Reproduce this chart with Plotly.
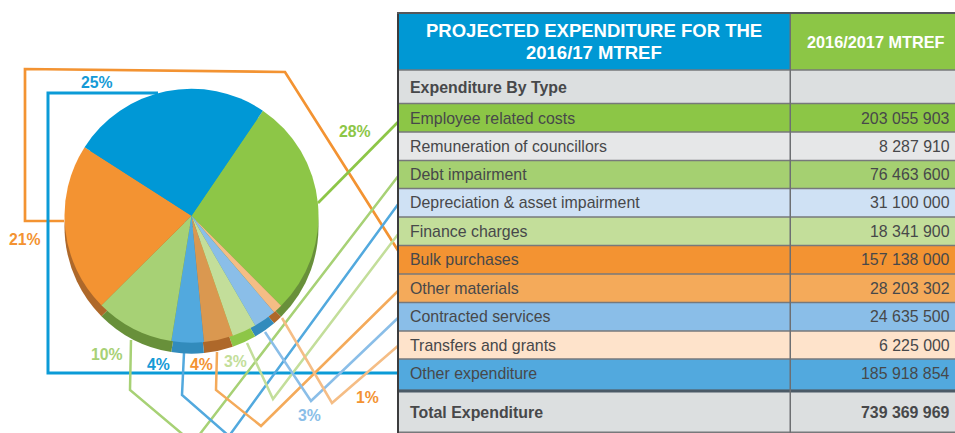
import plotly.graph_objects as go

W, H = 955, 433
FONT = "Liberation Sans"

# --- pie data (clockwise from the green slice)
slice_names = ["Employee related costs", "Transfers and grants", "Contracted services",
               "Finance charges", "Other materials", "Depreciation & asset impairment",
               "Debt impairment", "Bulk purchases", "Other expenditure"]
slice_share = [28, 1.2, 2.9, 3.1, 3.7, 4.1, 10, 21.5, 25.4]
slice_colors = ["#8dc647", "#f5bd85", "#8abee8", "#c3de9a", "#da9850", "#52a9de", "#a7d175", "#f39332", "#0098d6"]
side_colors = ["#68903a", "#ae682a", "#328bbc", "#8dc647", "#ae682a", "#328bbc", "#68903a", "#ae682a", "#0098d6"]

# --- table data
head_left = ["PROJECTED EXPENDITURE FOR THE", "2016/17 MTREF"]
head_right = "2016/2017 MTREF"
row_names = ["Expenditure By Type", "Employee related costs", "Remuneration of councillors", "Debt impairment",
             "Depreciation & asset impairment", "Finance charges", "Bulk purchases",
             "Other materials", "Contracted services", "Transfers and grants", "Other expenditure",
             "Total Expenditure"]
row_values = ["", "203 055 903", "8 287 910", "76 463 600", "31 100 000", "18 341 900",
              "157 138 000", "28 203 302", "24 635 500", "6 225 000", "185 918 854", "739 369 969"]
row_colors = ["#dcdfe0", "#8cc646", "#e6e7e8", "#a5d071", "#cfe1f4", "#c3de9a", "#f39332", "#f4aa5a",
              "#8abee8", "#fee3cb", "#52a9de", "#dcdfe0"]
row_bold = [True] + [False] * 10 + [True]
row_edges = [70, 103.5, 132, 160.5, 188.5, 217, 245.5, 274, 302.5, 331, 359, 390.5, 432.5]
row_text_y = [87.5, 118.3, 146.5, 174.5, 202.8, 231.3, 259.8, 288, 316.8, 345, 373.5, 412.5]

TXT = "#47484a"
LINE = "#77797b"
X0, X1, XS = 398, 955, 790


def fx(x):
    return x / W


def fy(y):
    return 1 - y / H


def dom(x0, x1, y0, y1):
    return dict(x=[fx(x0), fx(x1)], y=[fy(y1), fy(y0)])


def rect(x0, y0, x1, y1, color, layer="above"):
    return dict(type="rect", xref="paper", yref="paper", x0=fx(x0), x1=fx(x1), y0=fy(y1), y1=fy(y0),
                line=dict(width=0), fillcolor=color, layer=layer)


def label(text, x, y, color, size, anchor="center", family=FONT):
    return dict(text=text, x=fx(x), y=fy(y), xref="paper", yref="paper", showarrow=False,
                xanchor=anchor, yanchor="middle", borderpad=0, font=dict(family=family, size=size, color=color))


fig = go.Figure()

# pie: darker copy underneath gives the extruded edge
CX, CY, R, DEPTH = 191.5, 215.7, 127, 11
for colors, dy in ((side_colors, DEPTH), (slice_colors, 0)):
    fig.add_trace(go.Pie(
        labels=slice_names, values=slice_share, sort=False, direction="clockwise", rotation=34.2,
        marker=dict(colors=colors, line=dict(width=0)), textinfo="none", hoverinfo="skip",
        showlegend=False, domain=dom(CX - R, CX + R, CY - R + dy, CY + R + dy),
    ))

# leader lines: (colour, width, vertices in image pixels)
leaders = [
    ("#f39332", 2.7, [(64, 221), (25, 221), (25, 69), (285, 72), (399, 252)]),
    ("#0b9bd7", 3.0, [(158, 93), (48, 93), (48, 373), (399, 373)]),
    ("#8dc647", 2.7, [(318, 203), (399, 121)]),
    ("#a7d175", 2.5, [(131, 340), (130, 390), (193, 443), (399, 175)]),
    ("#52a9de", 2.5, [(184, 353), (182, 395), (229, 436), (399, 203)]),
    ("#f4aa5a", 2.5, [(217, 352), (216, 390), (261, 426), (399, 290)]),
    ("#c3de9a", 2.5, [(247, 343), (273, 399), (399, 233)]),
    ("#8abee8", 2.5, [(265, 332), (311, 401), (399, 317)]),
    ("#f5bd85", 2.5, [(282, 318), (332, 403), (399, 345)]),
]
shapes = []
for color, width, pts in leaders:
    path = "M" + " L".join(f"{fx(x):.5f},{fy(y):.5f}" for x, y in pts)
    shapes.append(dict(type="path", xref="paper", yref="paper", path=path, layer="below",
                       line=dict(color=color, width=width), fillcolor="rgba(0,0,0,0)"))

# table cells
annotations = []
shapes.append(rect(X0, 13, XS, row_edges[0], "#0098d4"))
shapes.append(rect(XS, 13, X1, row_edges[0], "#8cc646"))
annotations.append(label(f"<b>{head_left[0]}</b>", 594, 31, "white", 18.5))
annotations.append(label(f"<b>{head_left[1]}</b>", 594, 53, "white", 18.5))
annotations.append(label(f"<b>{head_right}</b>", 875.5, 42, "white", 16.3))

for i, (name, value, fill, bold) in enumerate(zip(row_names, row_values, row_colors, row_bold)):
    shapes.append(rect(X0, row_edges[i], X1, row_edges[i + 1], fill))
    fmt = "<b>{}</b>" if bold else "{}"
    annotations.append(label(fmt.format(name), 408.5, row_text_y[i], TXT, 15.9, "left"))
    if value:
        annotations.append(label(fmt.format(value), 951, row_text_y[i], TXT, 15.9, "right"))

# table rules and frame
for edge in row_edges[:-1]:
    shapes.append(rect(X0, edge - 0.7, X1, edge + 0.7, LINE))
shapes.append(rect(X0, 431.5, X1, 433, "#77797b"))
shapes.append(rect(399, 389.5, 955, 392.5, "#4b5a66"))
shapes.append(rect(789.5, 13, 791, 433, "#6d6f72"))
shapes.append(rect(397, 12, 399, 433, "#3c3c3e"))
shapes.append(rect(397, 12, 955, 14, "#55575a"))

pct_labels = [("25%", 97, 83, "#159ad6"), ("28%", 355, 132, "#8dc647"), ("21%", 25, 240, "#f39332"),
              ("10%", 107, 354, "#a7d175"), ("4%", 158, 364, "#159ad6"), ("4%", 201, 364, "#f39332"),
              ("3%", 235, 361, "#c3de9a"), ("3%", 309, 415, "#8abee8"), ("1%", 367, 397, "#f39332")]
for t, x, y, c in pct_labels:
    annotations.append(label(f"<b>{t}</b>", x, y, c, 15.8))

fig.update_layout(width=W, height=H, margin=dict(l=0, r=0, t=0, b=0), paper_bgcolor="white",
                  shapes=shapes, annotations=annotations, showlegend=False)
fig.write_html("out.html", config=dict(displayModeBar=False),
               post_script="document.body.style.margin='0';document.body.style.overflow='hidden';")
